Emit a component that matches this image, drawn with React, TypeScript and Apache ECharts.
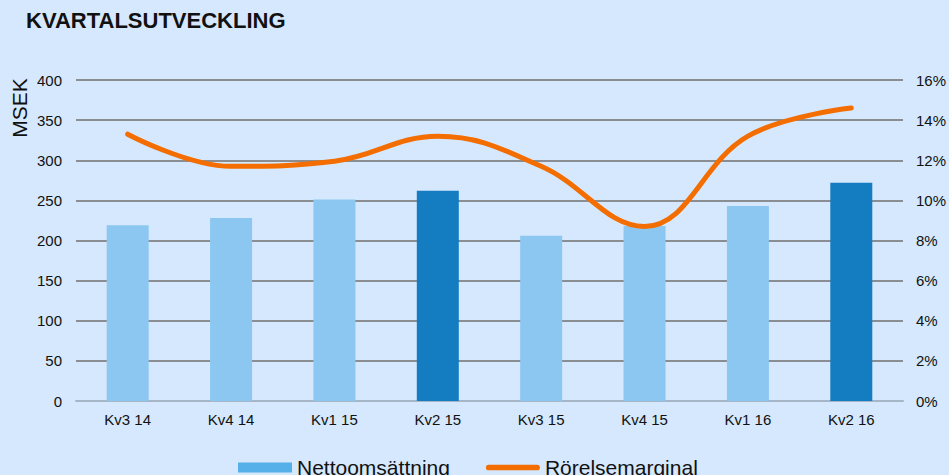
import React, { useEffect, useRef } from "react";
import * as echarts from "echarts";

const categories = ["Kv3 14", "Kv4 14", "Kv1 15", "Kv2 15", "Kv3 15", "Kv4 15", "Kv1 16", "Kv2 16"];
const salesValues = [219, 228, 251, 262, 206, 218, 243, 272];
const highlighted = [false, false, false, true, false, false, false, true];
const marginValues = [13.3, 11.7, 11.95, 13.2, 11.7, 8.7, 13.2, 14.6];
const leftTicks = { min: 0, max: 400, interval: 50 };
const rightTicks = { min: 0, max: 16, interval: 2 };

const FONT = "'Liberation Sans', Arial, sans-serif";
const LINE_ICON = "path://M3,0 H54 A3,3 0 0 1 54,6 H3 A3,3 0 0 1 3,0 Z";

export default function App() {
  const ref = useRef<HTMLDivElement>(null);
  useEffect(() => {
    if (!ref.current) return;
    document.body.style.margin = "0";
    const chart = echarts.init(ref.current, undefined, { renderer: "svg" });
    chart.setOption({
      animation: false,
      backgroundColor: "#d5e8fd",
      textStyle: { fontFamily: FONT },
      title: {
        text: "KVARTALSUTVECKLING",
        left: 21,
        top: 4,
        textStyle: { fontFamily: FONT, fontWeight: "bold", fontSize: 22, color: "#111" },
      },
      graphic: [
        {
          type: "text",
          x: 19,
          y: 108,
          rotation: Math.PI / 2,
          style: {
            text: "MSEK",
            fontFamily: FONT,
            fontSize: 21,
            fill: "#111",
            textAlign: "center",
            textVerticalAlign: "middle",
          },
        },
      ],
      legend: {
        left: 233,
        top: 452,
        itemWidth: 54,
        itemHeight: 10,
        itemGap: 36,
        textStyle: { fontFamily: FONT, fontSize: 21, color: "#111" },
        data: [
          { name: "Nettoomsättning", icon: "rect" },
          { name: "Rörelsemarginal", icon: LINE_ICON, itemStyle: { color: "#f46d00" }, lineStyle: { width: 0 } },
        ],
      },
      grid: { left: 76, right: 45, top: 80, bottom: 74, containLabel: false },
      xAxis: {
        type: "category",
        data: categories,
        axisTick: { show: false },
        axisLine: { show: true, lineStyle: { color: "#a7b6c6", width: 2 } },
        axisLabel: { fontFamily: FONT, fontSize: 15, color: "#111", margin: 11 },
      },
      yAxis: [
        {
          type: "value",
          min: leftTicks.min,
          max: leftTicks.max,
          interval: leftTicks.interval,
          axisLine: { show: false },
          axisTick: { show: false },
          splitLine: { lineStyle: { color: "#8a8d92", width: 2 } },
          axisLabel: { fontFamily: FONT, fontSize: 15, color: "#111", margin: 14 },
        },
        {
          type: "value",
          min: rightTicks.min,
          max: rightTicks.max,
          interval: rightTicks.interval,
          axisLine: { show: false },
          axisTick: { show: false },
          splitLine: { show: false },
          axisLabel: { fontFamily: FONT, fontSize: 15, color: "#111", margin: 13, formatter: "{value}%" },
        },
      ],
      series: [
        {
          name: "Nettoomsättning",
          type: "bar",
          barWidth: 42,
          itemStyle: { color: "#55b0ea" },
          data: salesValues.map((v, i) => ({
            value: v,
            itemStyle: { color: highlighted[i] ? "#147cc0" : "#8cc7f2" },
          })),
        },
        {
          name: "Rörelsemarginal",
          type: "line",
          yAxisIndex: 1,
          smooth: 0.4,
          symbol: "none",
          lineStyle: { color: "#f46d00", width: 5, cap: "round" },
          itemStyle: { color: "#f46d00" },
          data: marginValues,
        },
      ],
    });
    return () => chart.dispose();
  }, []);
  return <div ref={ref} style={{ width: 949, height: 475 }} />;
}
